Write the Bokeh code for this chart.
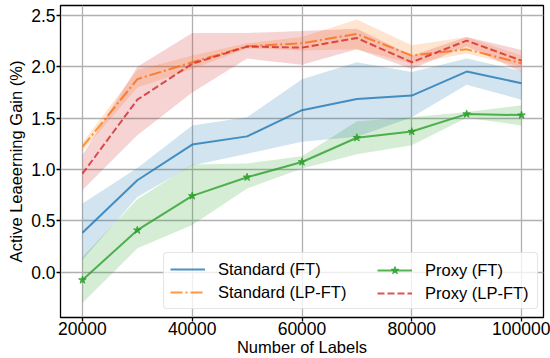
from bokeh.plotting import figure
from bokeh.models import Range1d, FixedTicker, Legend, LegendItem, PrintfTickFormatter, ColumnDataSource
from bokeh.embed import file_html
from bokeh.resources import INLINE

labels = [20000, 30000, 40000, 50000, 60000, 70000, 80000, 90000, 100000]

std_ft = [0.385, 0.896, 1.243, 1.323, 1.578, 1.686, 1.72, 1.954, 1.84]
std_ft_lo = [0.12, 0.734, 1.04, 1.155, 1.27, 1.32, 1.51, 1.825, 1.68]
std_ft_hi = [0.67, 1.016, 1.43, 1.51, 1.88, 2.045, 1.95, 2.08, 1.96]

std_lp = [1.22, 1.88, 2.045, 2.2, 2.23, 2.32, 2.11, 2.17, 2.035]
std_lp_lo = [1.18, 1.80, 1.98, 2.18, 2.16, 2.17, 2.03, 2.13, 2.0]
std_lp_hi = [1.26, 1.97, 2.11, 2.23, 2.29, 2.46, 2.21, 2.29, 2.11]

prx_ft = [-0.075, 0.41, 0.744, 0.925, 1.074, 1.31, 1.37, 1.54, 1.53]
prx_ft_lo = [-0.30, 0.233, 0.46, 0.815, 1.01, 1.15, 1.236, 1.505, 1.43]
prx_ft_hi = [0.15, 0.71, 1.05, 1.06, 1.13, 1.47, 1.51, 1.56, 1.625]

prx_lp = [0.96, 1.68, 2.03, 2.197, 2.187, 2.28, 2.045, 2.255, 2.06]
prx_lp_lo = [0.80, 1.333, 1.75, 2.08, 2.02, 2.17, 1.98, 2.2, 1.95]
prx_lp_hi = [1.14, 2.0, 2.33, 2.33, 2.35, 2.37, 2.11, 2.29, 2.165]

x_ticks = [20000, 40000, 60000, 80000, 100000]
y_ticks = [0.0, 0.5, 1.0, 1.5, 2.0, 2.5]

FONT = "Liberation Sans"

p = figure(width=550, height=358, output_backend="svg", toolbar_location=None,
           x_range=Range1d(16000, 104000), y_range=Range1d(-0.44, 2.597),
           min_border_left=60, min_border_right=7, min_border_top=5, min_border_bottom=40)

p.outline_line_color = "black"
p.outline_line_width = 1.3
p.background_fill_color = "white"
p.border_fill_color = "white"

for ax in (p.xaxis[0], p.yaxis[0]):
    ax.major_label_text_font = FONT
    ax.major_label_text_font_size = "17.5px"
    ax.major_label_text_color = "black"
    ax.axis_label_text_font = FONT
    ax.axis_label_text_font_size = "16.5px"
    ax.axis_label_text_font_style = "normal"
    ax.axis_label_text_color = "black"
    ax.major_tick_out = 4
    ax.major_tick_in = 0
    ax.minor_tick_out = 0
    ax.minor_tick_in = 0
    ax.major_tick_line_color = "black"
    ax.major_tick_line_width = 1.3
    ax.axis_line_color = None

p.xaxis.ticker = FixedTicker(ticks=x_ticks)
p.yaxis.ticker = FixedTicker(ticks=y_ticks)
p.xaxis.formatter = PrintfTickFormatter(format="%d")
p.yaxis.formatter = PrintfTickFormatter(format="%.1f")
p.xaxis.axis_label = "Number of Labels"
p.yaxis.axis_label = "Active Leaeerning Gain (%)"
p.xaxis.major_label_standoff = 0
p.xaxis.axis_label_standoff = 0
p.yaxis.major_label_standoff = 1
p.yaxis.axis_label_standoff = 3

p.grid.grid_line_color = "#b0b0b0"
p.grid.grid_line_width = 1.3

series = [
    ("Standard (FT)", std_ft, std_ft_lo, std_ft_hi, "#1f77b4", "solid", False),
    ("Standard (LP-FT)", std_lp, std_lp_lo, std_lp_hi, "#ff7f0e", "12 3 2 3", False),
    ("Proxy (FT)", prx_ft, prx_ft_lo, prx_ft_hi, "#2ca02c", "solid", True),
    ("Proxy (LP-FT)", prx_lp, prx_lp_lo, prx_lp_hi, "#d62728", "7 3", False),
]

items = []
for name, ys, lo, hi, color, dash, star in series:
    src = ColumnDataSource(dict(x=labels, y=ys, lo=lo, hi=hi))
    p.varea(x="x", y1="lo", y2="hi", source=src, fill_color=color, fill_alpha=0.2)
    r = p.line(x="x", y="y", source=src, line_color=color, line_alpha=0.8,
               line_width=2, line_dash=dash)
    rs = [r]
    if star:
        s = p.scatter(x="x", y="y", source=src, marker="star", size=8,
                      fill_color=color, line_color=color, fill_alpha=0.8, line_alpha=0.8)
        rs.append(s)
    items.append(LegendItem(label=name, renderers=rs))

common = dict(label_text_font=FONT, label_text_font_size="16.5px", label_text_color="black",
              glyph_width=35, glyph_height=20, label_height=20, label_standoff=13,
              padding=6, spacing=3, margin=0)

leg1 = Legend(items=items[:2], location=(103, 8), label_width=313,
              background_fill_color="white", background_fill_alpha=0.8,
              border_line_color="#cccccc", border_line_width=1.2, border_radius=4, **common)
leg2 = Legend(items=items[2:], location=(311, 8), label_width=100,
              background_fill_alpha=0.0, border_line_color="white", border_line_alpha=0.0,
              **common)
p.add_layout(leg1, "center")
p.add_layout(leg2, "center")

open("out.html", "w").write(file_html(p, INLINE))
